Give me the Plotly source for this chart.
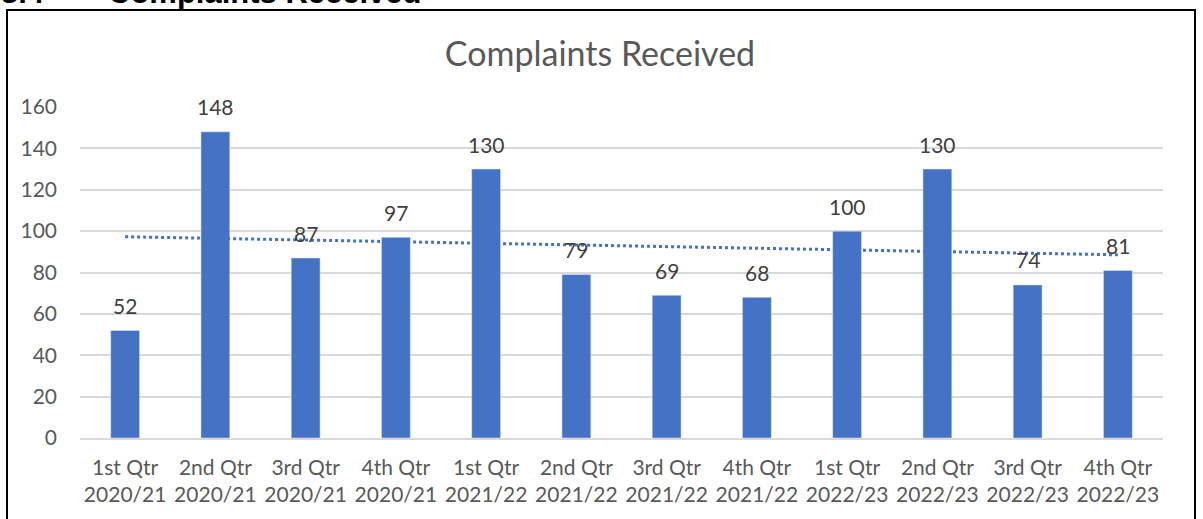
import numpy as np
import plotly.graph_objects as go

quarters = ["1st Qtr", "2nd Qtr", "3rd Qtr", "4th Qtr"] * 3
years = ["2020/21"] * 4 + ["2021/22"] * 4 + ["2022/23"] * 4
categories = [f"{q}<br>{y}" for q, y in zip(quarters, years)]
complaints = [52, 148, 87, 97, 130, 79, 69, 68, 100, 130, 74, 81]

# Linear trendline (as in the source chart), fitted on the values above
idx = np.arange(1, len(complaints) + 1)
slope, intercept = np.polyfit(idx, complaints, 1)
trend = slope * idx + intercept

BLUE = "#4472C4"
GRAY = "#595959"
FONT = "Lato, Carlito, Calibri, sans-serif"

fig = go.Figure()
fig.add_trace(go.Bar(
    x=categories, y=complaints, marker_color=BLUE,
    cliponaxis=False, showlegend=False,
))
fig.add_trace(go.Scatter(
    x=categories, y=trend, mode="lines",
    line=dict(color=BLUE, width=3, dash="dot"), showlegend=False,
))

# body margin is removed (post_script), so figure pixel = screen pixel
W, H = 1203, 519
L, T = 80, 107
R = W - 1163
B = H - 438
pw, ph = W - L - R, H - T - B

def px_x(x):
    return (x - L) / pw

def px_y(y):
    return (H - B - y) / ph

value_labels = [
    dict(x=c, y=v, xref="x", yref="y", text=str(v), showarrow=False,
         yanchor="middle", yshift=25,
         font=dict(size=21, color="#404040", family=FONT))
    for c, v in zip(categories, complaints)
]

fig.update_layout(
    width=W, height=H,
    margin=dict(l=L, r=R, t=T, b=B, autoexpand=False),
    paper_bgcolor="white", plot_bgcolor="white",
    bargap=0.68,
    font=dict(family=FONT, color=GRAY),
    title=dict(text="Complaints Received", x=600 / W, xanchor="center",
               y=1 - 54 / H, yanchor="middle",
               font=dict(size=34, color=GRAY, family=FONT)),
    xaxis=dict(tickfont=dict(size=21, color=GRAY), showgrid=False,
               showline=True, linecolor="#D9D9D9", linewidth=1.5, ticks="",
               ticklabelstandoff=10),
    yaxis=dict(range=[0, 160], dtick=20, tickfont=dict(size=21, color=GRAY),
               gridcolor="#D9D9D9", gridwidth=1.5, zeroline=False, ticks="",
               ticklabelstandoff=22),
    shapes=[dict(type="rect", xref="paper", yref="paper",
                 x0=px_x(7), x1=px_x(1195), y0=px_y(560), y1=px_y(10),
                 line=dict(color="black", width=2), fillcolor="rgba(0,0,0,0)",
                 layer="above")],
    annotations=value_labels + [
        dict(text="<b>3.4</b>", xref="paper", yref="paper", x=px_x(-1), y=px_y(12),
             xanchor="left", yanchor="bottom", showarrow=False,
             font=dict(size=31, color="black", family="Liberation Sans, Arial")),
        dict(text="<b>Complaints Received</b>", xref="paper", yref="paper",
             x=px_x(106), y=px_y(12), xanchor="left", yanchor="bottom", showarrow=False,
             font=dict(size=31, color="black", family="Liberation Sans, Arial")),
    ],
)

fig.write_html("out.html", config={"displayModeBar": False},
               post_script="document.body.style.margin='0';document.body.style.overflow='hidden';")
